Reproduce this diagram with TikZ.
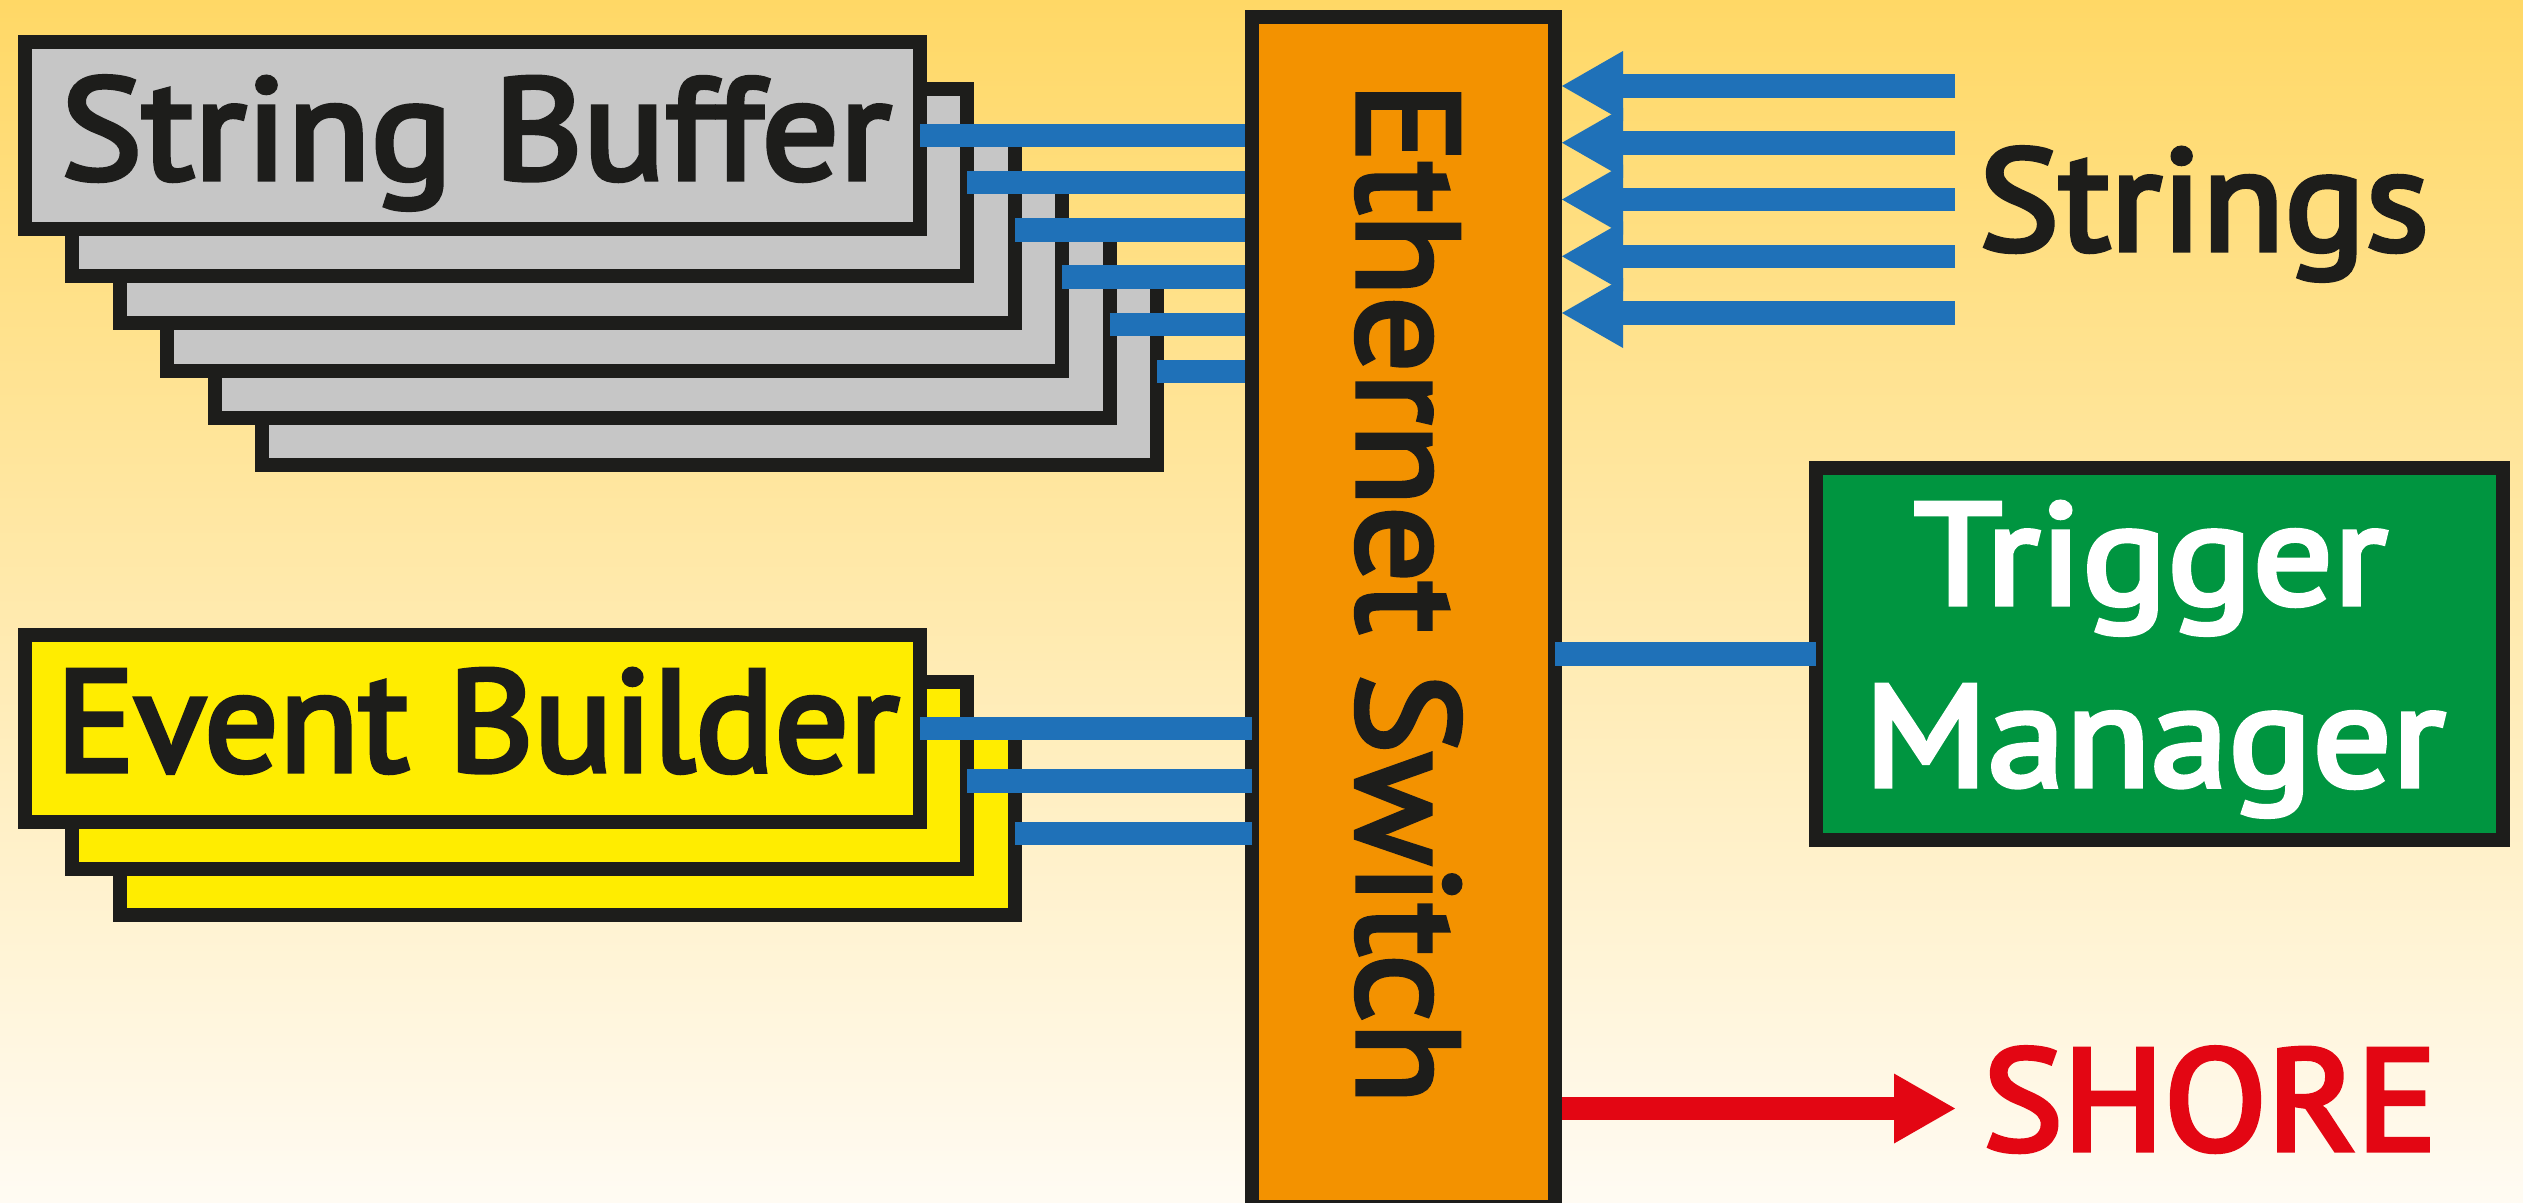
\documentclass[tikz,border=0pt]{standalone}
\usepackage{fontspec}
\setmainfont{PT Sans}
\newfontfamily\lblfont{PT Sans}[FakeBold=3.5]
\usetikzlibrary{arrows.meta,calc}
\definecolor{bgtop}{RGB}{255,216,102}
\definecolor{bgbot}{RGB}{255,251,243}
\definecolor{ink}{RGB}{29,29,27}
\definecolor{wire}{RGB}{31,113,184}
\definecolor{switchfill}{RGB}{243,146,0}
\definecolor{sbfill}{RGB}{198,198,198}
\definecolor{ebfill}{RGB}{255,237,0}
\definecolor{tmfill}{RGB}{0,149,64}
\definecolor{shorered}{RGB}{227,6,19}
\newcommand\fitto[2]{\resizebox{#1}{\height}{#2}}
\begin{document}
\begin{tikzpicture}[x=1pt,y=-1pt,
  box/.style={draw=ink, line width=14pt, inner sep=0pt, outer sep=0pt, anchor=north west,
    minimum width=895pt, minimum height=187pt},
  sbbox/.style={box, fill=sbfill},
  ebbox/.style={box, fill=ebfill},
  lbl/.style={inner sep=0pt, outer sep=0pt, anchor=base,
    font=\fontsize{144}{170}\lblfont, text=ink},
  bluewire/.style={draw=wire, line width=23.5pt},
  inarrow/.style={bluewire, -{Triangle[length=61pt,width=70pt,line width=0pt]}},
  outarrow/.style={draw=shorered, line width=23pt, -{Triangle[length=61pt,width=70pt,line width=0pt]}},
]
\useasboundingbox (0,0) rectangle (2523,1202);
\shade[top color=bgtop, bottom color=bgbot] (0,0) rectangle (2523,1202);

% String buffer stack
\foreach \i in {5,4,...,0}
  \node[sbbox] (sb\i) at ({25+47.4*\i},{42+47.2*\i}) {};
% Event builder stack
\foreach \i in {2,1,0}
  \node[ebbox] (eb\i) at ({25+47.4*\i},{635+46.5*\i}) {};

% Ethernet switch
\node[box, fill=switchfill, minimum width=303pt, minimum height=1190pt] (sw) at (1252,17) {};
\coordinate (swL) at ($(sw.west)+(-7,0)$);
\coordinate (swR) at ($(sw.east)+(7,0)$);

% Trigger manager
\node[box, fill=tmfill, minimum width=687pt, minimum height=372pt] (tm) at (1816,468) {};

% wires from string buffers
\foreach \i in {0,...,5}
  \draw[bluewire] (sb\i.east) -- (sb\i.east -| swL);
% wires from event builders
\draw[bluewire] (eb0.east) -- (eb0.east -| sw.west);
\draw[bluewire] (eb1.east |- 0,781) -- (sw.west |- 0,781);
\draw[bluewire] (eb2.east |- 0,833.5) -- (sw.west |- 0,833.5);
% wire to trigger manager
\draw[bluewire] (tm.west) -- (tm.west -| sw.east);

% strings arrows
\foreach \i in {0,...,4} {
  \coordinate (st\i) at (1955,{86+56.75*\i});
  \draw[inarrow] (st\i) -- (st\i -| swR);
}
% shore arrow
\coordinate (shoretip) at (1955,1108.5);
\draw[outarrow] (swR |- shoretip) -- (shoretip);

% labels
\node[lbl] (sbtext) at (476,179) {\fitto{830pt}{String Buffer}};
\node[lbl] (ebtext) at (477.5,771) {\fitto{843pt}{Event Builder}};
\node[lbl, rotate=-90] (swtext) at (1358,593) {\fitto{1022pt}{Ethernet Switch}};
\node[lbl] (strtext) at (2204,250) {\fitto{450pt}{Strings}};
\node[lbl, text=white] (tmtexta) at (2150.5,604) {\fitto{473pt}{Trigger}};
\node[lbl, text=white] (tmtextb) at (2154.5,786) {\fitto{581pt}{Manager}};
\node[lbl, text=shorered] (shoretext) at (2210,1150) {\fitto{454pt}{SHORE}};
\end{tikzpicture}
\end{document}
